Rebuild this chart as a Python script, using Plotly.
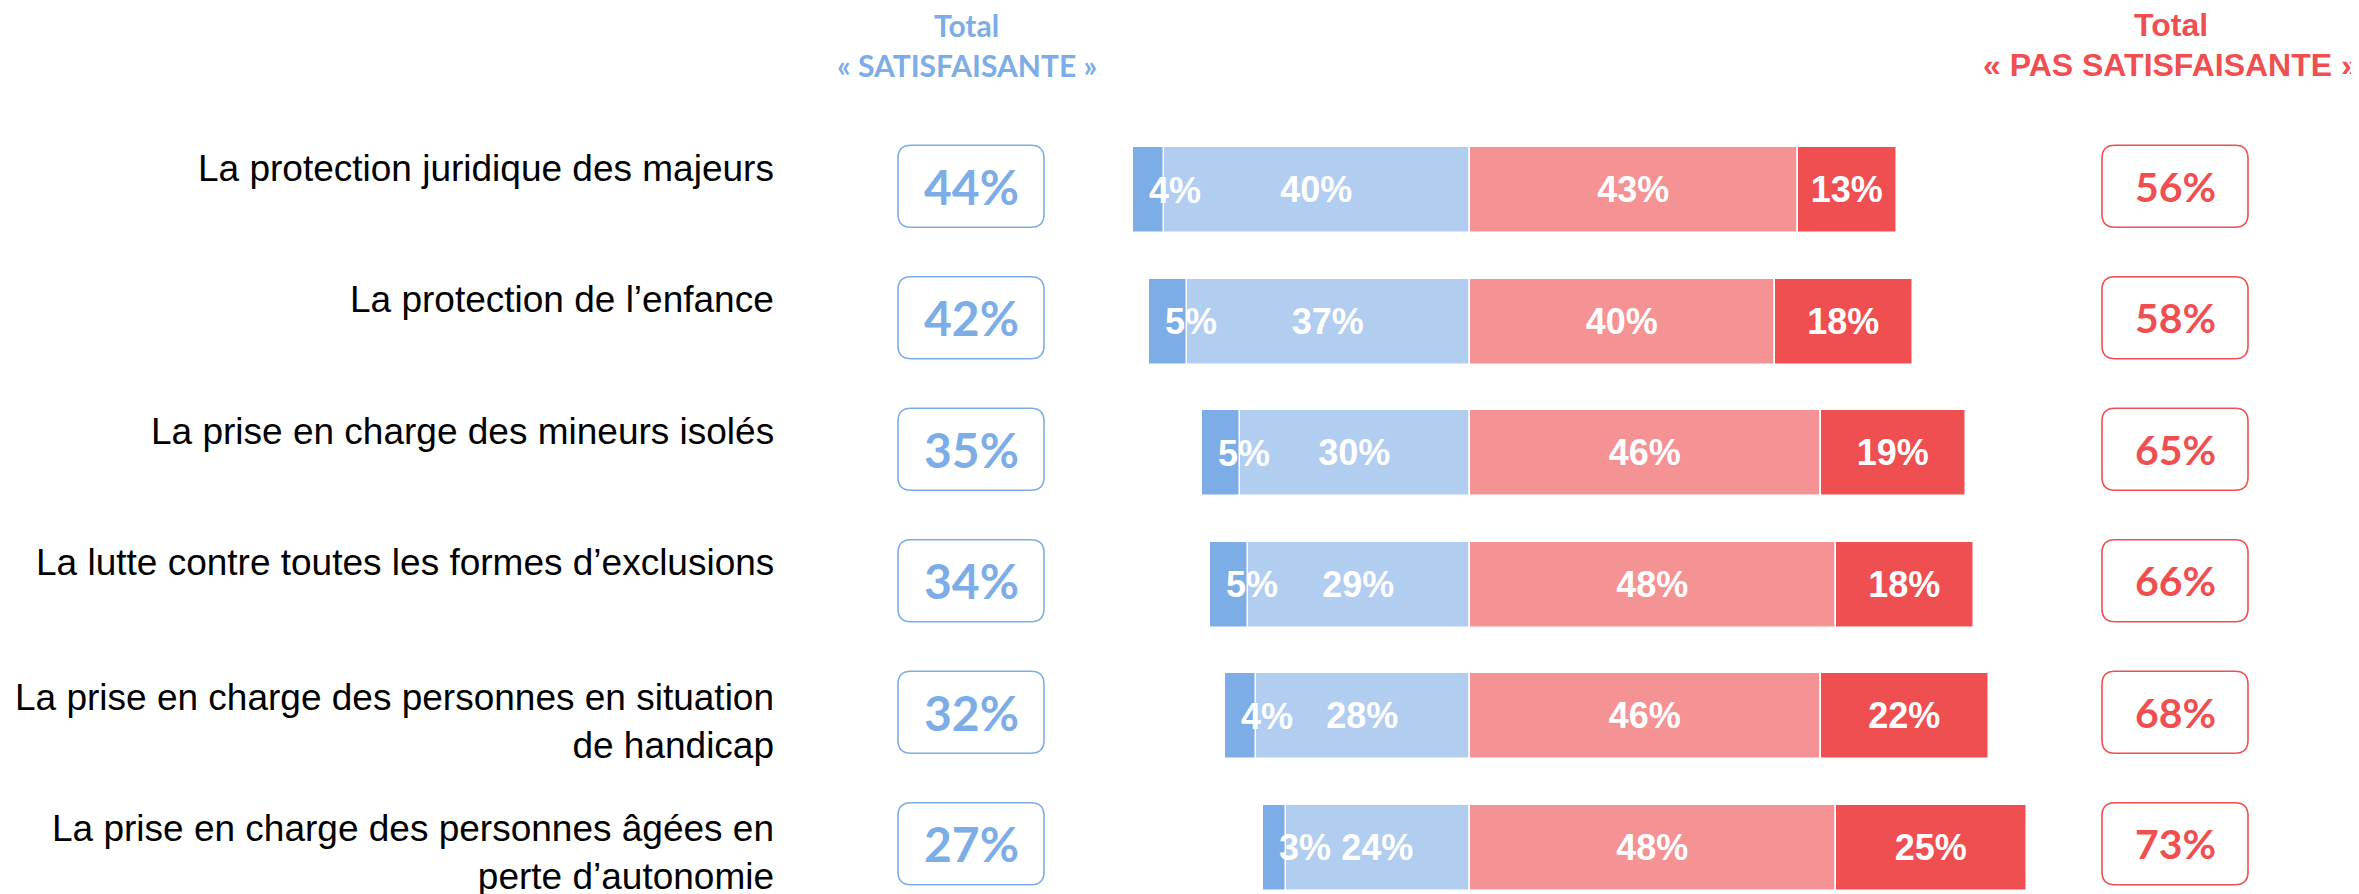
import plotly.graph_objects as go

# ---------------- data ----------------
categories = [
    "La protection juridique des majeurs",
    "La protection de l’enfance",
    "La prise en charge des mineurs isolés",
    "La lutte contre toutes les formes d’exclusions",
    "La prise en charge des personnes en situation<br>de handicap",
    "La prise en charge des personnes âgées en<br>perte d’autonomie",
]
tres_satisfaisante = [4, 5, 5, 5, 4, 3]
plutot_satisfaisante = [40, 37, 30, 29, 28, 24]
plutot_pas_satisfaisante = [43, 40, 46, 48, 46, 48]
pas_du_tout_satisfaisante = [13, 18, 19, 18, 22, 25]
total_satisfaisante = [44, 42, 35, 34, 32, 27]
total_pas_satisfaisante = [56, 58, 65, 66, 68, 73]

# ---------------- style ----------------
W, H = 2359, 894
OFF = 8  # page body margin of the browser
DARK_BLUE = "#7DADE6"
LIGHT_BLUE = "#B1CDF0"
PINK = "#F59294"
RED = "#F04F51"
TITLE_BLUE = "#7DADE6"
TITLE_RED = "#F04F51"
BAR_FONT = dict(family="Liberation Sans, Arial, sans-serif", size=36,
                color="white", weight="bold")


def px_x(px):
    return (px - OFF) / W


def px_y(py):
    return 1 - (py - OFF) / H


fig = go.Figure()
line = dict(color="white", width=1.5)

fig.add_trace(go.Bar(
    y=categories, x=[-v for v in plutot_satisfaisante], orientation="h",
    marker=dict(color=LIGHT_BLUE, line=line), width=0.654,
    text=[f"{v}%" for v in plutot_satisfaisante], textposition="inside",
    insidetextanchor="middle", textfont=BAR_FONT, constraintext="none",
    name="Plutôt satisfaisante", hoverinfo="skip"))
fig.add_trace(go.Bar(
    y=categories, x=[-v for v in tres_satisfaisante], orientation="h",
    marker=dict(color=DARK_BLUE, line=line), width=0.654,
    textposition="none", name="Très satisfaisante", hoverinfo="skip"))
fig.add_trace(go.Bar(
    y=categories, x=plutot_pas_satisfaisante, orientation="h",
    marker=dict(color=PINK, line=line), width=0.654,
    text=[f"{v}%" for v in plutot_pas_satisfaisante], textposition="inside",
    insidetextanchor="middle", textfont=BAR_FONT, constraintext="none",
    name="Plutôt pas satisfaisante", hoverinfo="skip"))
fig.add_trace(go.Bar(
    y=categories, x=pas_du_tout_satisfaisante, orientation="h",
    marker=dict(color=RED, line=line), width=0.654,
    text=[f"{v}%" for v in pas_du_tout_satisfaisante], textposition="inside",
    insidetextanchor="middle", textfont=BAR_FONT, constraintext="none",
    name="Pas du tout satisfaisante", hoverinfo="skip"))

annotations = []
shapes = []

# labels of the small dark-blue segments (overflowing to the right)
for cat, d, l in zip(categories, tres_satisfaisante, plutot_satisfaisante):
    annotations.append(dict(
        x=-(d + l), y=cat, xref="x", yref="y", text=f"{d}%",
        xanchor="left", yanchor="middle", xshift=14, showarrow=False,
        font=BAR_FONT))

# category labels (left)
for cat in categories:
    nlines = cat.count("<br>") + 1
    annotations.append(dict(
        x=px_x(776), y=cat, xref="paper", yref="y", text=cat,
        xanchor="right", yanchor="middle", align="right",
        yshift=22 if nlines == 1 else -5, showarrow=False,
        font=dict(family="Liberation Sans, Arial, sans-serif", size=37, color="black")))


def rounded_box(cx_px, cat, w, h, r, color, dy):
    x0, x1, y0, y1 = -w / 2, w / 2, -h / 2 + dy, h / 2 + dy
    path = (f"M {x0 + r},{y0} L {x1 - r},{y0} Q {x1},{y0} {x1},{y0 + r} "
            f"L {x1},{y1 - r} Q {x1},{y1} {x1 - r},{y1} L {x0 + r},{y1} "
            f"Q {x0},{y1} {x0},{y1 - r} L {x0},{y0 + r} Q {x0},{y0} {x0 + r},{y0} Z")
    return dict(type="path", xref="paper", yref="y", xsizemode="pixel",
                ysizemode="pixel", xanchor=px_x(cx_px), yanchor=cat, path=path,
                line=dict(color=color, width=1.6), fillcolor="rgba(0,0,0,0)")


BOX_DY = 4  # boxes sit slightly above bar centre
for cat, s, u in zip(categories, total_satisfaisante, total_pas_satisfaisante):
    shapes.append(rounded_box(971, cat, 146, 82, 13, DARK_BLUE, BOX_DY))
    shapes.append(rounded_box(2175, cat, 146, 82, 13, RED, BOX_DY))
    annotations.append(dict(
        x=px_x(971), y=cat, xref="paper", yref="y", text=f"<b>{s}%</b>",
        xanchor="center", yanchor="middle", yshift=BOX_DY, showarrow=False,
        font=dict(family="Lato, Calibri, sans-serif", size=48, color=DARK_BLUE)))
    annotations.append(dict(
        x=px_x(2175), y=cat, xref="paper", yref="y", text=f"<b>{u}%</b>",
        xanchor="center", yanchor="middle", yshift=BOX_DY, showarrow=False,
        font=dict(family="Lato, Calibri, sans-serif", size=41, color=RED)))

# column titles
annotations += [
    dict(x=px_x(966), y=px_y(25), xref="paper", yref="paper", text="<b>Total</b>",
         showarrow=False, xanchor="center", yanchor="middle",
         font=dict(family="Lato, Calibri, sans-serif", size=30, color=TITLE_BLUE)),
    dict(x=px_x(967), y=px_y(65), xref="paper", yref="paper", text="<b>« SATISFAISANTE »</b>",
         showarrow=False, xanchor="center", yanchor="middle",
         font=dict(family="Lato, Calibri, sans-serif", size=30, color=TITLE_BLUE)),
    dict(x=px_x(2171), y=px_y(25), xref="paper", yref="paper", text="<b>Total</b>",
         showarrow=False, xanchor="center", yanchor="middle",
         font=dict(family="Liberation Sans, Arial, sans-serif", size=32, color=TITLE_RED)),
    dict(x=px_x(2171), y=px_y(65), xref="paper", yref="paper", text="<b>« PAS SATISFAISANTE »</b>",
         showarrow=False, xanchor="center", yanchor="middle",
         font=dict(family="Liberation Sans, Arial, sans-serif", size=32, color=TITLE_RED)),
]

CENTER_PX = 1469.5 - OFF
PX_PER_PCT = 7.64
ROW0_PX = 190.3 - OFF
ROW_STEP = 131.5

fig.update_layout(
    width=W, height=H,
    margin=dict(l=0, r=0, t=0, b=0),
    paper_bgcolor="white", plot_bgcolor="white",
    barmode="relative", bargap=0,
    showlegend=False,
    xaxis=dict(range=[-CENTER_PX / PX_PER_PCT, (W - CENTER_PX) / PX_PER_PCT],
               visible=False, fixedrange=True),
    yaxis=dict(type="category", categoryorder="array", categoryarray=categories,
               range=[(H - ROW0_PX) / ROW_STEP, -ROW0_PX / ROW_STEP],
               visible=False, fixedrange=True),
    annotations=annotations,
    shapes=shapes,
    uniformtext=dict(minsize=36, mode="show"),
)

fig.write_html("out.html")
